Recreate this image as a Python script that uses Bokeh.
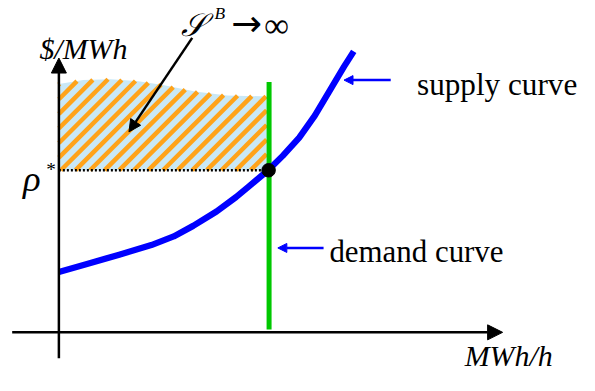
import numpy as np
from bokeh.plotting import figure
from bokeh.models import Range1d, Arrow, NormalHead, Label
from bokeh.embed import file_html
from bokeh.resources import INLINE

# ---- data (diagram units: x = MWh/h, y = $/MWh, origin at the axes' crossing) ----
supply_q = [0, 28, 62, 95, 118, 138, 162, 182, 195, 215, 230, 247, 263, 280, 293, 303]
supply_p = [63, 71, 81, 91, 100, 111, 126, 141, 152, 169, 184, 203, 226, 255, 277, 293]
demand_q = 216
demand_p_top = 261
rho_star = 169
eq_q = 215.5
area_q = [0, 25, 53, 80, 107, 140, 173, 213.5]
area_top = [259, 263, 264, 262, 258, 251, 247, 246]

# annotation anchors (diagram units)
x_axis_span = (-48, 456)
y_axis_span = (-27, 286)
label_arrow = ((137, 307), (72, 209))
supply_arrow = ((341, 263), (293, 263))
demand_arrow = ((272, 88), (225, 88))

SERIF = "Liberation Serif"
W, H = 579, 375
X0, X1 = -60, 535
Y0, Y1 = -45, 346
sx = W / (X1 - X0)
sy = H / (Y1 - Y0)
fs = lambda px: f"{px * (sx + sy) / 2:.1f}px"

p = figure(width=W, height=H, output_backend="svg", toolbar_location=None,
           x_range=Range1d(X0, X1), y_range=Range1d(Y0, Y1),
           min_border=0, outline_line_color=None, background_fill_color="white",
           border_fill_color="white")
p.axis.visible = False
p.grid.visible = False

# region fill
p.varea(x=area_q, y1=[rho_star] * len(area_q), y2=area_top, fill_color="#c9e8f6")

# 45-degree orange stripes clipped to the region
k = sx / sy
qq = np.linspace(0, area_q[-1], 2000)
top = np.interp(qq, area_q, area_top)
x0s, y0s, x1s, y1s = [], [], [], []
for q0 in np.arange(2 - 15 * 7, area_q[-1], 15):
    pl = rho_star + (qq - q0) * k
    inside = (pl >= rho_star) & (pl <= top)
    if inside.sum() < 2:
        continue
    idx = np.where(inside)[0]
    x0s.append(qq[idx[0]]); y0s.append(pl[idx[0]])
    x1s.append(qq[idx[-1]]); y1s.append(pl[idx[-1]])
p.segment(x0s, y0s, x1s, y1s, line_color="#ffa31a", line_width=4.5, line_cap="butt")

# rho* dotted line
p.line([0, eq_q], [rho_star, rho_star], line_color="black", line_width=2.5,
       line_dash="2 2")

# axes
p.add_layout(Arrow(x_start=x_axis_span[0], y_start=0, x_end=x_axis_span[1], y_end=0,
                   line_width=2.5, line_color="black",
                   end=NormalHead(size=15, fill_color="black", line_color="black")))
p.add_layout(Arrow(x_start=0, y_start=y_axis_span[0], x_end=0, y_end=y_axis_span[1],
                   line_width=2.5, line_color="black",
                   end=NormalHead(size=15, fill_color="black", line_color="black")))

# demand and supply curves
p.line([demand_q, demand_q], [3, demand_p_top], line_color="#00c800", line_width=5)
p.line(supply_q, supply_p, line_color="#0000ff", line_width=6.3, line_join="round")
p.scatter([eq_q], [rho_star], size=13.5, fill_color="black", line_color="black")

# pointer arrows
(a0, a1) = label_arrow
p.add_layout(Arrow(x_start=a0[0], y_start=a0[1], x_end=a1[0], y_end=a1[1],
                   line_width=2.5, line_color="black",
                   end=NormalHead(size=12, fill_color="black", line_color="black")))
for (s0, s1) in (supply_arrow, demand_arrow):
    p.add_layout(Arrow(x_start=s0[0], y_start=s0[1], x_end=s1[0], y_end=s1[1],
                       line_width=2.5, line_color="#0000ff",
                       end=NormalHead(size=9, fill_color="#0000ff", line_color="#0000ff")))

def lab(x, y, t, size, style="normal", font=SERIF):
    p.add_layout(Label(x=x, y=y, text=t, text_font=font, text_font_size=fs(size),
                       text_font_style=style, text_color="black",
                       text_baseline="alphabetic"))

lab(368, 258, "supply curve", 32.3)
lab(278, 84, "demand curve", 32)
lab(417, -24, "MWh/h", 31, "italic")
lab(-20, 296, "$/MWh", 31, "italic")
lab(-37, 160, "ρ", 38, "italic")
lab(-13, 170, "*", 20)
lab(125, 320, "𝒮", 33, "italic")
lab(160, 333, "B", 18, "italic")
lab(177, 322, "→", 38, "normal", "DejaVu Sans")
lab(211, 320, "∞", 36)

open("out.html", "w").write(file_html(p, INLINE))
